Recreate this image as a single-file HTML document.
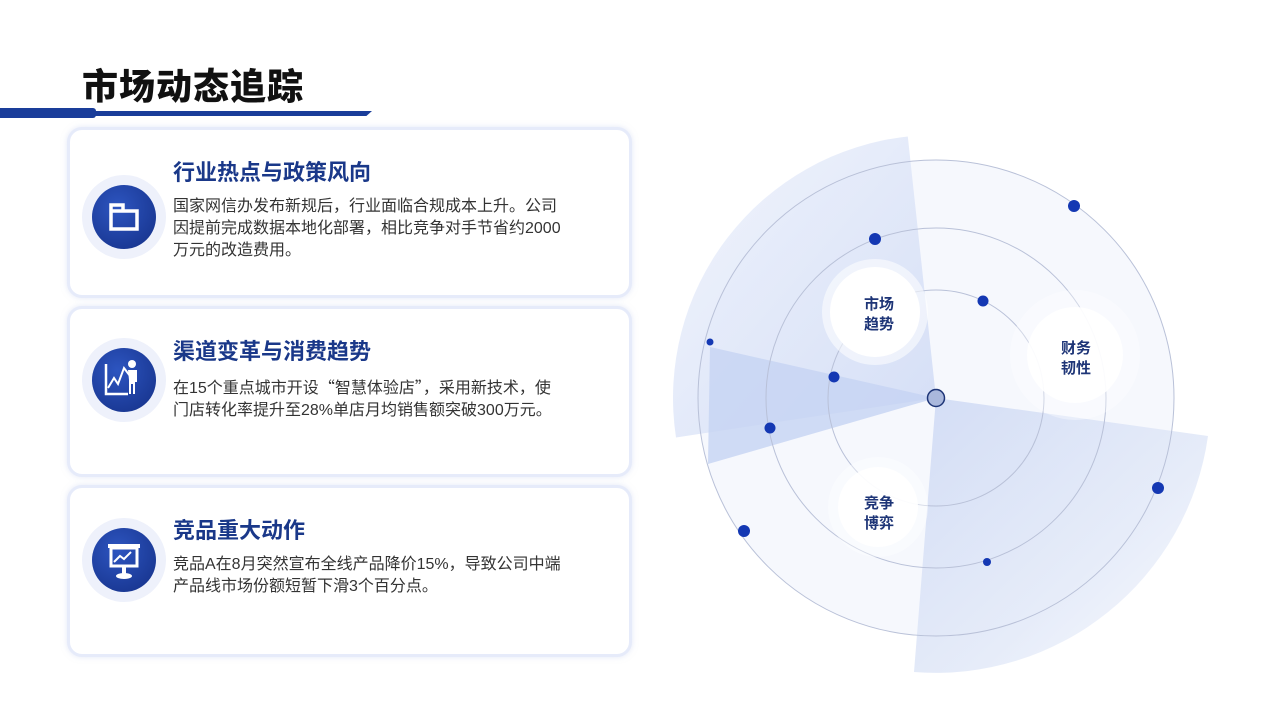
<!DOCTYPE html>
<html><head><meta charset="utf-8"><style>
*{margin:0;padding:0;box-sizing:border-box}
body{width:1280px;height:720px;background:#fff;position:relative;overflow:hidden;font-family:"Liberation Sans","Noto Sans CJK SC",sans-serif}
.title{position:absolute;left:82px;top:58px;font-size:36px;font-weight:900;color:#111;letter-spacing:1px}
.bar1{position:absolute;left:0;top:108px;width:96px;height:10px;background:#1a3d9a;border-radius:0 3px 3px 0}
.bar2{position:absolute;left:90px;top:111px;width:282px;height:5px;background:#1a3d9a;clip-path:polygon(0 0,100% 0,98% 100%,0 100%)}
.card{position:absolute;left:67px;width:565px;border:3px solid #e6ebfa;border-radius:15px;background:#fff;box-shadow:0 0 6px rgba(200,210,240,.5)}
.ic{position:absolute;left:12px;width:84px;height:84px;border-radius:50%;background:#eef1fb}
.ic i{position:absolute;left:10px;top:10px;width:64px;height:64px;border-radius:50%;background:radial-gradient(circle at 40% 35%,#2d55c0,#142f86);display:block}
.ic svg{position:absolute;left:10px;top:10px}
.h{position:absolute;left:103px;font-size:22px;font-weight:700;color:#1a3889}
.p{position:absolute;left:103px;width:394px;font-size:16px;line-height:22px;color:#333}
.q{font-family:"Noto Sans CJK SC",sans-serif}
</style></head><body>
<div class="title">市场动态追踪</div>
<div class="bar2"></div><div class="bar1"></div>

<div class="card" style="top:127px;height:171px">
 <div class="ic" style="top:45px"><i></i><svg width="64" height="64"><path d="M19 20h12v6h14v18H19z M19 26h12" fill="none" stroke="#fff" stroke-width="3.5"/></svg></div>
 <div class="h" style="top:25px">行业热点与政策风向</div>
 <div class="p" style="top:66px">国家网信办发布新规后，行业面临合规成本上升。公司因提前完成数据本地化部署，相比竞争对手节省约2000万元的改造费用。</div>
</div>
<div class="card" style="top:306px;height:171px">
 <div class="ic" style="top:29px"><i></i><svg width="64" height="64"><path d="M14 16v30h22" fill="none" stroke="#fff" stroke-width="2.5"/><path d="M16 40l6-10 4 6 6-16 6 8" fill="none" stroke="#fff" stroke-width="2"/><circle cx="40" cy="16" r="4" fill="#fff"/><path d="M36 22h9v12h-2v12h-2v-10h-2v10h-2v-14z" fill="#fff"/></svg></div>
 <div class="h" style="top:25px">渠道变革与消费趋势</div>
 <div class="p" style="top:66px">在15个重点城市开设<span class="q">“</span>智慧体验店<span class="q">”</span>，采用新技术，使<br>门店转化率提升至28%单店月均销售额突破300万元。</div>
</div>
<div class="card" style="top:485px;height:172px">
 <div class="ic" style="top:30px"><i></i><svg width="64" height="64"><rect x="16" y="16" width="32" height="4" fill="#fff"/><rect x="19" y="20" width="26" height="18" fill="none" stroke="#fff" stroke-width="3"/><path d="M22 34l6-6 4 3 7-7" fill="none" stroke="#fff" stroke-width="2"/><rect x="30" y="38" width="4" height="8" fill="#fff"/><ellipse cx="32" cy="48" rx="8" ry="3" fill="#fff"/></svg></div>
 <div class="h" style="top:25px">竞品重大动作</div>
 <div class="p" style="top:66px">竞品A在8月突然宣布全线产品降价15%，导致公司中端产品线市场份额短暂下滑3个百分点。</div>
</div>

<svg style="position:absolute;left:0;top:0" width="1280" height="720">
<defs>
<linearGradient id="g1" x1="0" y1="0" x2="1" y2="1"><stop offset="0" stop-color="#e6ecfa" stop-opacity=".6"/><stop offset="1" stop-color="#d4def6"/></linearGradient>
<linearGradient id="g2" x1="0" y1="0" x2="1" y2="1"><stop offset="0" stop-color="#d3ddf5"/><stop offset=".6" stop-color="#e6ecf9"/><stop offset="1" stop-color="#fafbfe"/></linearGradient>
</defs>
<circle cx="936" cy="398" r="238" fill="#f6f8fd"/>
<path d="M936 398 L907.8 136.5 A263 263 0 0 0 676 437.5 Z" fill="url(#g1)"/>
<path d="M936 398 L1208 436 A275 275 0 0 1 914 672 Z" fill="url(#g2)"/>
<path d="M936 398 L710 347 L708 464 Z" fill="#c6d3f2" opacity=".8"/>
<g fill="none" stroke="#b9c1d8" stroke-width="1">
<circle cx="936" cy="398" r="108"/><circle cx="936" cy="398" r="170"/><circle cx="936" cy="398" r="238"/>
</g>
<circle cx="875" cy="312" r="53" fill="#fff" opacity=".55"/><circle cx="875" cy="312" r="45" fill="#fff"/>
<circle cx="1075" cy="355" r="65" fill="#fff" opacity=".35"/><circle cx="1075" cy="355" r="48" fill="#fff" opacity=".9"/>
<circle cx="878" cy="507" r="50" fill="#fff" opacity=".4"/><circle cx="878" cy="507" r="40" fill="#fff" opacity=".9"/>
<circle cx="936" cy="398" r="8.5" fill="#aab8dc" stroke="#1e3577" stroke-width="1.5"/>
<g fill="#1438b3">
<circle cx="1074" cy="206" r="6"/><circle cx="875" cy="239" r="6"/><circle cx="983" cy="301" r="5.5"/><circle cx="710" cy="342" r="3.5"/><circle cx="834" cy="377" r="5.5"/><circle cx="770" cy="428" r="5.5"/><circle cx="744" cy="531" r="6"/><circle cx="1158" cy="488" r="6"/><circle cx="987" cy="562" r="4"/>
</g>
<g font-family="Liberation Sans,Noto Sans CJK SC,sans-serif" font-size="15" font-weight="700" fill="#1e3577" text-anchor="middle">
<text x="879" y="309">市场</text><text x="879" y="329">趋势</text>
<text x="1076" y="353">财务</text><text x="1076" y="373">韧性</text>
<text x="879" y="508">竞争</text><text x="879" y="528">博弈</text>
</g>
</svg>
</body></html>
